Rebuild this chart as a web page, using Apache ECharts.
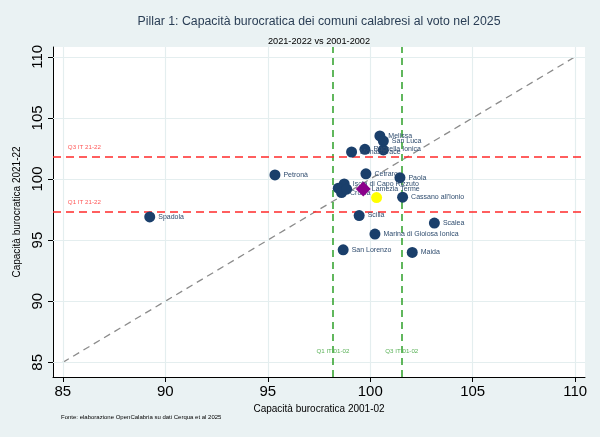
<!DOCTYPE html>
<html><head><meta charset="utf-8">
<script src="https://cdn.jsdelivr.net/npm/echarts@6/dist/echarts.min.js"></script>
<style>html,body{margin:0;padding:0;background:#eaf2f3}#c{width:600px;height:437px}</style>
</head><body><div id="c"></div>
<script>
// Data
const names = ["Spadola","Petronà","Melissa","San Luca","Roccella Ionica","Monasterace","Badolato","Cetraro","Paola","Isola di Capo Rizzuto","Bisignano","Crosia","Rende","Cassano all'Ionio","Scilla","Scalea","Marina di Gioiosa Ionica","San Lorenzo","Maida"];
const x2001 = [89.24,95.35,100.47,100.64,99.74,99.09,100.64,99.79,101.45,98.73,98.44,98.60,98.85,101.58,99.46,103.13,100.23,98.68,102.05];
const y2021 = [96.9,100.33,103.52,103.11,102.43,102.21,102.38,100.42,100.11,99.6,99.25,98.89,99.17,98.51,97.01,96.39,95.49,94.21,93.99];
const showLabel = [true,true,true,true,true,true,false,true,true,true,false,true,false,true,true,true,true,true,true];
const highlightPurple = {name:"Lamezia Terme", x:99.66, y:99.19};
const highlightYellow = {name:"", x:100.31, y:98.48};
const tickValues = [85,90,95,100,105,110];
const q1x = 98.18, q3x = 101.54;  // Italy quartiles 2001-02
const q1y = 97.34, q3y = 101.83;  // Italy quartiles 2021-22
const diag = [[85,85],[110,110]];

const navy = '#1a3f6b';
const labelColor = '#2f4c6e';
const pts = names.map((n,i)=>({value:[x2001[i],y2021[i]],name:n,label:{show:showLabel[i]}}));

const chart = echarts.init(document.getElementById('c'));
chart.setOption({
  backgroundColor:'#eaf2f3',
  animation:false,
  title:[
    {text:'Pillar 1: Capacità burocratica dei comuni calabresi al voto nel 2025',left:314,textAlign:'center',top:11,
     textStyle:{fontSize:12.3,fontWeight:'normal',color:'#2a3e55',fontFamily:'Liberation Sans, Arial'}},
    {text:'2021-2022 vs 2001-2002',left:314,textAlign:'center',top:32,textStyle:{fontSize:9.2,fontWeight:'normal',color:'#000',fontFamily:'Liberation Sans, Arial'}},
    {text:'Fonte: elaborazione OpenCalabria su dati Cerqua et al 2025',left:56,top:409,textStyle:{fontSize:6,fontWeight:'normal',color:'#000',fontFamily:'Liberation Sans, Arial'}}
  ],
  grid:{left:53,right:15,top:47,bottom:60,show:true,backgroundColor:'#fff',borderWidth:0},
  xAxis:{type:'value',min:84.52,max:110.48,
    name:'Capacità burocratica 2001-02',nameLocation:'middle',nameGap:21,
    nameTextStyle:{fontSize:10,color:'#000',fontFamily:'Liberation Sans, Arial'},
    axisLine:{show:true,lineStyle:{color:'#000',width:1}},
    axisTick:{show:true,length:5,customValues:tickValues,lineStyle:{color:'#000'}},
    axisLabel:{customValues:tickValues,fontSize:15,color:'#000',margin:7,fontFamily:'Liberation Sans, Arial'},
    splitLine:{show:false}},
  yAxis:{type:'value',min:83.8,max:110.8,
    name:'Capacità burocratica 2021-22',nameLocation:'middle',nameGap:27,nameRotate:90,
    nameTextStyle:{fontSize:10,color:'#000',fontFamily:'Liberation Sans, Arial'},
    axisLine:{show:true,lineStyle:{color:'#000',width:1}},
    axisTick:{show:true,length:5,customValues:tickValues,lineStyle:{color:'#000'}},
    axisLabel:{customValues:tickValues,fontSize:15,color:'#000',rotate:90,margin:8,fontFamily:'Liberation Sans, Arial'},
    splitLine:{show:false}},
  series:[
    {type:'line',data:[],silent:true,
      markLine:{silent:true,symbol:'none',label:{show:false},
        lineStyle:{color:'#e4eeef',width:1.2,type:'solid'},
        data:tickValues.map(v=>({xAxis:v})).concat(tickValues.map(v=>({yAxis:v})))}},
    {type:'line',data:diag,symbol:'none',silent:true,z:3,
      lineStyle:{color:'#8c8c8c',width:1.3,type:[7,5]}},
    {type:'line',data:[],silent:true,z:4,
      markLine:{silent:true,symbol:'none',label:{show:false},
        data:[
          {xAxis:q1x,lineStyle:{color:'#3aa635',width:1.6,type:[7,5]}},
          {xAxis:q3x,lineStyle:{color:'#3aa635',width:1.6,type:[7,5]}},
          {yAxis:q1y,lineStyle:{color:'#ff2a2a',width:1.6,type:[8,5]}},
          {yAxis:q3y,lineStyle:{color:'#ff2a2a',width:1.6,type:[8,5]}}
        ]}},
    {type:'scatter',silent:true,z:5,symbolSize:0,
      data:[
        {value:[q1x,85.9],label:{formatter:'Q1 IT 01-02',color:'#2e9e2a'}},
        {value:[q3x,85.9],label:{formatter:'Q3 IT 01-02',color:'#2e9e2a'}},
        {value:[85.0,q3y+0.75],label:{formatter:'Q3 IT 21-22',color:'#ff2a2a',position:'right'}},
        {value:[85.0,q1y+0.75],label:{formatter:'Q1 IT 21-22',color:'#ff2a2a',position:'right'}}
      ],
      label:{show:true,position:'inside',fontSize:6.2,fontFamily:'Liberation Sans, Arial'}},
    {type:'scatter',z:10,symbol:'circle',symbolSize:11,
      itemStyle:{color:navy,opacity:1},
      data:pts,
      label:{position:'right',distance:3,formatter:'{b}',fontSize:7,color:labelColor,fontFamily:'Liberation Sans, Arial'}},
    {type:'scatter',z:11,symbol:'diamond',symbolSize:15,itemStyle:{color:'#8b008b',opacity:1},
      data:[{value:[highlightPurple.x,highlightPurple.y],name:highlightPurple.name}],
      label:{show:true,position:'right',distance:1,formatter:'{b}',fontSize:7,color:labelColor,fontFamily:'Liberation Sans, Arial'}},
    {type:'scatter',z:11,symbol:'circle',symbolSize:11,itemStyle:{color:'#ffff00',opacity:1},
      data:[[highlightYellow.x,highlightYellow.y]]}
  ]
});
</script></body></html>
